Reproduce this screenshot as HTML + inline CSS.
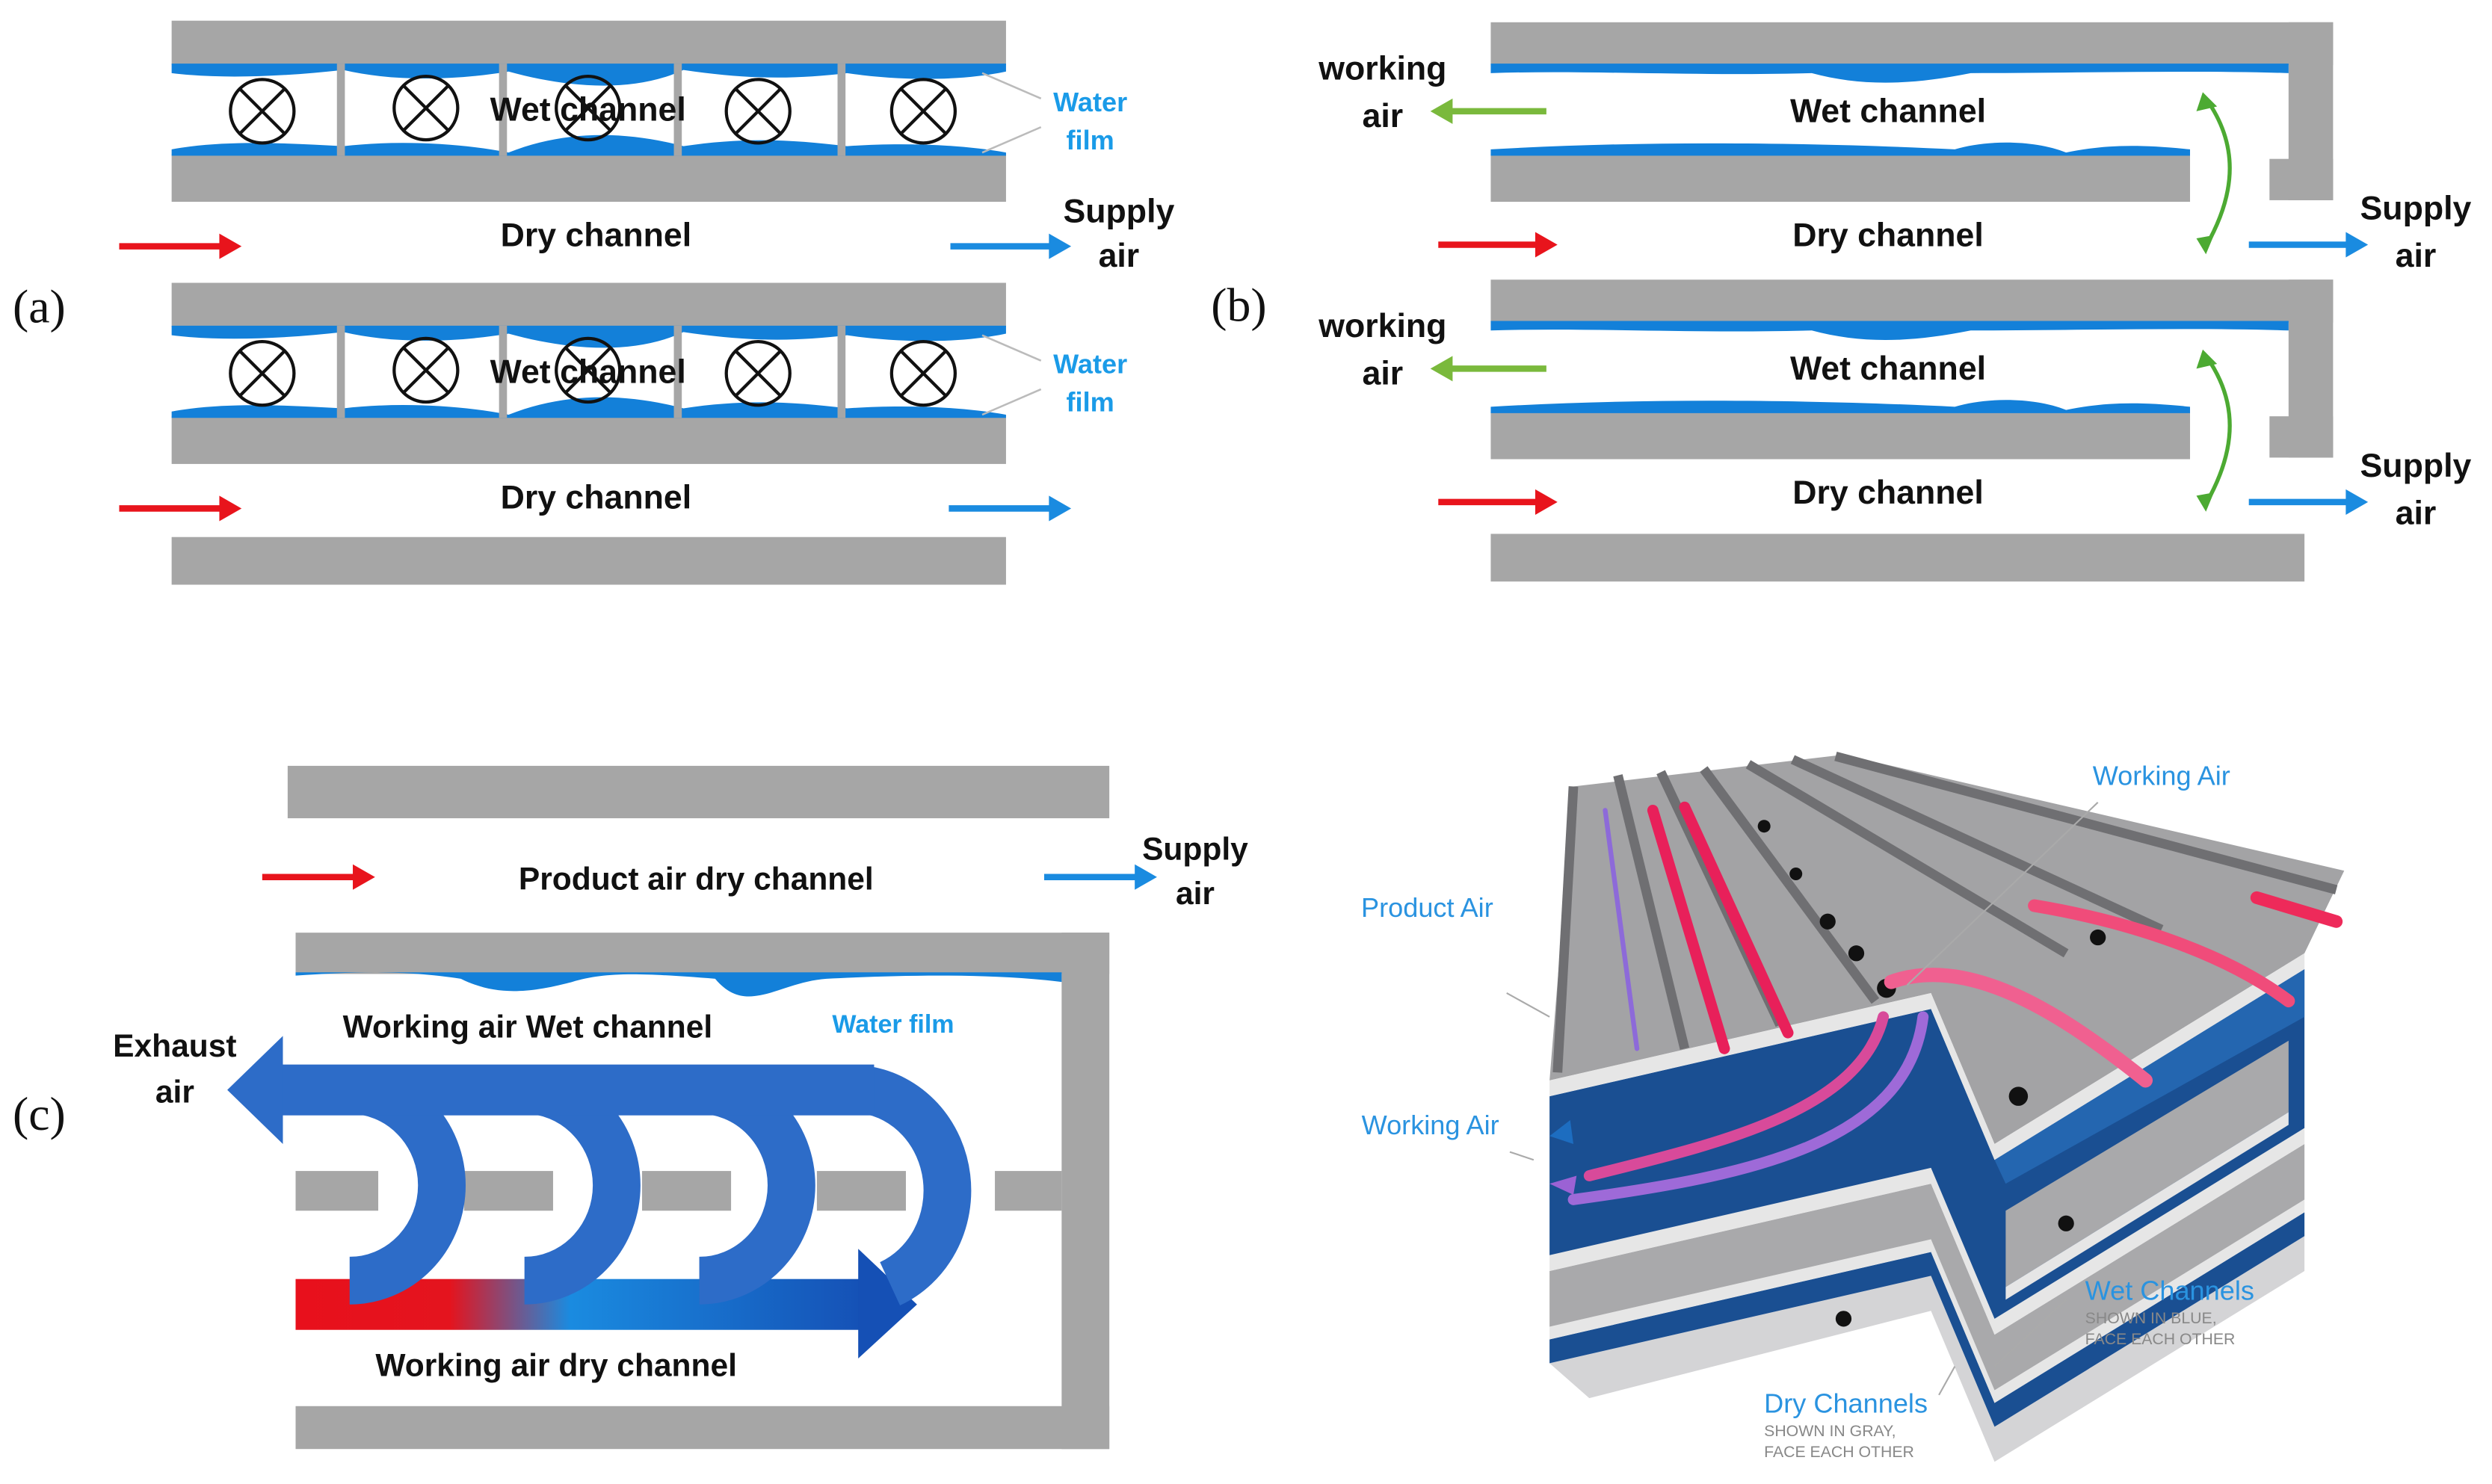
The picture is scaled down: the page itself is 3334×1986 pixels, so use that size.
<!DOCTYPE html>
<html><head><meta charset="utf-8"><style>
html,body{margin:0;padding:0;background:#fff}
svg{display:block}
text{font-family:"Liberation Sans",sans-serif}
.b{font-weight:bold;fill:#111}
.w{font-weight:bold;fill:#1a9be8}
.lab{font-family:"Liberation Serif",serif;font-size:30px;fill:#111}
.p{fill:#a6a6a6}
.wf{fill:#1380d9}
.cx{fill:none;stroke:#111;stroke-width:2}
.bl{fill:#2a93e0;font-weight:normal}
</style></head><body>
<svg width="3334" height="1986" viewBox="0 0 1568 934" xmlns="http://www.w3.org/2000/svg">
<defs>
<linearGradient id="gr" x1="0" x2="1"><stop offset="0" stop-color="#e8101c"/><stop offset="0.27" stop-color="#e4141e"/><stop offset="0.48" stop-color="#1a8be0"/><stop offset="1" stop-color="#1550b5"/></linearGradient>
<g id="xc"><circle r="20" class="cx"/><path d="M-14,-14L14,14M14,-14L-14,14" class="cx"/></g>
<g id="ua">
<rect x="108" y="13" width="525" height="28" class="p"/>
<rect x="108" y="97" width="525" height="30" class="p"/>
<path class="wf" d="M108,40 L633,40 L633,45 C600,52 560,50 533,46 C500,50 470,50 430,44 C400,58 360,56 320,45 C290,50 250,52 216,44 C180,48 140,50 108,46Z"/>
<path class="wf" d="M108,98 L633,98 L633,96 C600,90 560,90 533,92 C500,88 470,86 430,92 C400,84 360,80 320,96 C290,90 250,88 216,92 C180,90 140,88 108,94Z"/>
<rect x="212" y="40" width="5" height="58" class="p"/><rect x="314" y="40" width="5" height="58" class="p"/><rect x="424" y="40" width="5" height="58" class="p"/><rect x="527" y="40" width="5" height="58" class="p"/>
<use href="#xc" x="165" y="70"/><use href="#xc" x="268" y="68"/><use href="#xc" x="370" y="68"/><use href="#xc" x="477" y="70"/><use href="#xc" x="581" y="70"/>
<text x="370" y="76" class="b" font-size="21" text-anchor="middle">Wet channel</text>
<path d="M618,46L655,62M618,96L655,80" stroke="#bbb" stroke-width="1.2"/>
<text x="686" y="70" class="w" font-size="17" text-anchor="middle">Water</text>
<text x="686" y="94" class="w" font-size="17" text-anchor="middle">film</text>
<text x="375" y="155" class="b" font-size="21" text-anchor="middle">Dry channel</text>
<path d="M75,155H140" stroke="#e8141c" stroke-width="4"/><path d="M138,147L152,155L138,163Z" fill="#e8141c"/>
</g>
</defs>

<!-- (a) -->
<use href="#ua"/>
<use href="#ua" y="165"/>
<rect x="108" y="338" width="525" height="30" class="p"/>
<path d="M598,155H662" stroke="#1a8be0" stroke-width="4"/><path d="M660,147L674,155L660,163Z" fill="#1a8be0"/>
<path d="M597,320H662" stroke="#1a8be0" stroke-width="4"/><path d="M660,312L674,320L660,328Z" fill="#1a8be0"/>
<text x="704" y="140" class="b" font-size="21" text-anchor="middle">Supply</text>
<text x="704" y="168" class="b" font-size="21" text-anchor="middle">air</text>
<text x="8" y="203" class="lab">(a)</text>

<!-- (b) -->
<g id="ub">
<rect x="938" y="14" width="530" height="27" class="p"/>
<rect x="1440" y="14" width="28" height="112" class="p"/>
<rect x="1428" y="100" width="40" height="26" class="p"/>
<rect x="938" y="97" width="440" height="30" class="p"/>
<path class="wf" d="M938,40H1440V46C1380,44 1300,46 1240,46 C1200,54 1170,54 1140,46 C1060,48 1000,44 938,46Z"/>
<path class="wf" d="M938,98H1378V94C1340,90 1320,92 1300,96 C1280,88 1250,88 1230,94 C1150,90 1040,88 938,94Z"/>
<path d="M973,70H912" stroke="#7ab93c" stroke-width="4"/><path d="M914,62L900,70L914,78Z" fill="#7ab93c"/>
<path d="M1388,155 C1408,120 1408,90 1388,62" fill="none" stroke="#4caa32" stroke-width="2.5"/>
<path d="M1382,70L1386,58L1395,67Z" fill="#4caa32"/><path d="M1382,150L1388,160L1393,148Z" fill="#4caa32"/>
<text x="870" y="50" class="b" font-size="21" text-anchor="middle">working</text>
<text x="870" y="80" class="b" font-size="21" text-anchor="middle">air</text>
<text x="1188" y="77" class="b" font-size="21" text-anchor="middle">Wet  channel</text>
<text x="1188" y="155" class="b" font-size="21" text-anchor="middle">Dry channel</text>
<path d="M905,154H968" stroke="#e8141c" stroke-width="4"/><path d="M966,146L980,154L966,162Z" fill="#e8141c"/>
<path d="M1415,154H1478" stroke="#1a8be0" stroke-width="4"/><path d="M1476,146L1490,154L1476,162Z" fill="#1a8be0"/>
<text x="1520" y="138" class="b" font-size="21" text-anchor="middle">Supply</text>
<text x="1520" y="168" class="b" font-size="21" text-anchor="middle">air</text>
</g>
<use href="#ub" y="162"/>
<rect x="938" y="336" width="512" height="30" class="p"/>
<text x="762" y="202" class="lab">(b)</text>

<!-- (c) -->
<rect x="181" y="482" width="517" height="33" class="p"/>
<path d="M165,552H224" stroke="#e8141c" stroke-width="4"/><path d="M222,544L236,552L222,560Z" fill="#e8141c"/>
<text x="438" y="560" class="b" font-size="20" text-anchor="middle">Product air dry channel</text>
<path d="M657,552H716" stroke="#1a8be0" stroke-width="4"/><path d="M714,544L728,552L714,560Z" fill="#1a8be0"/>
<text x="752" y="541" class="b" font-size="20" text-anchor="middle">Supply</text>
<text x="752" y="569" class="b" font-size="20" text-anchor="middle">air</text>
<rect x="186" y="587" width="512" height="26" class="p"/>
<rect x="668" y="587" width="30" height="325" class="p"/>
<rect x="186" y="885" width="512" height="27" class="p"/>
<path class="wf" d="M186,612H668V618C620,612 560,614 520,616 C490,618 470,640 450,616 C400,612 380,612 360,618 C330,626 310,626 290,616 C250,610 220,612 186,614Z"/>
<text x="332" y="653" class="b" font-size="20" text-anchor="middle">Working air Wet  channel</text>
<text x="562" y="650" class="w" font-size="16" text-anchor="middle">Water film</text>
<rect x="186" y="737" width="52" height="25" class="p"/><rect x="292" y="737" width="56" height="25" class="p"/><rect x="404" y="737" width="56" height="25" class="p"/><rect x="514" y="737" width="56" height="25" class="p"/><rect x="626" y="737" width="42" height="25" class="p"/>
<rect x="186" y="805" width="360" height="32" fill="url(#gr)"/>
<path d="M540,786L577,821L540,855Z" fill="#1550b5"/>
<g fill="none" stroke="#2d6cc8" stroke-width="30">
<path d="M220,686 A58,60 0 0 1 220,806"/>
<path d="M330,686 A58,60 0 0 1 330,806"/>
<path d="M440,686 A58,60 0 0 1 440,806"/>
<path d="M545,686 A60,64 0 0 1 560,808"/>
</g>
<rect x="175" y="670" width="375" height="32" fill="#2d6cc8"/>
<path d="M178,652L143,686L178,720Z" fill="#2d6cc8"/>
<text x="110" y="665" class="b" font-size="20" text-anchor="middle">Exhaust</text>
<text x="110" y="694" class="b" font-size="20" text-anchor="middle">air</text>
<text x="350" y="866" class="b" font-size="20" text-anchor="middle">Working air dry channel</text>
<text x="8" y="711" class="lab">(c)</text>

<!-- 3D -->
<g>
<polygon points="975,858 1215,803 1255,898 1450,778 1450,800 1255,920 1215,825 1000,880" fill="#d4d4d6"/>
<polygon points="975,843 1215,788 1255,883 1450,763 1450,778 1255,898 1215,803 975,858" fill="#1a4f92"/>
<polygon points="975,835 1215,780 1255,875 1450,755 1450,763 1255,883 1215,788 975,843" fill="#e6e6e6"/>
<polygon points="975,800 1215,745 1255,840 1450,720 1450,755 1255,875 1215,780 975,835" fill="#a9a9ab"/>
<polygon points="975,790 1215,735 1255,830 1450,710 1450,720 1255,840 1215,745 975,800" fill="#e6e6e6"/>
<polygon points="975,690 1215,635 1255,730 1450,610 1450,710 1255,830 1215,735 975,790" fill="#1a4f92"/>
<polygon points="1255,730 1450,610 1450,640 1262,745" fill="#2466b0"/>
<polygon points="1262,762 1440,655 1440,700 1262,810" fill="#a9a9ab"/>
<polygon points="1262,810 1440,700 1440,708 1262,818" fill="#e6e6e6"/>
<!-- top plate -->
<polygon points="990,495 1160,475 1475,548 1450,600 1255,720 1215,625 975,680" fill="#a3a3a5"/>
<polygon points="975,680 1215,625 1255,720 1450,600 1450,610 1255,730 1215,635 975,690" fill="#e6e6e6"/>
<g stroke="#6f6f72" stroke-width="6">
<path d="M990,495L980,675"/><path d="M1018,488L1060,660"/><path d="M1045,486L1120,645"/><path d="M1072,484L1180,630"/><path d="M1100,481L1300,600"/><path d="M1128,478L1360,585"/><path d="M1155,476L1470,560"/>
</g>
<g fill="#111"><circle cx="1110" cy="520" r="4"/><circle cx="1130" cy="550" r="4"/><circle cx="1150" cy="580" r="5"/><circle cx="1168" cy="600" r="5"/><circle cx="1187" cy="622" r="6"/><circle cx="1320" cy="590" r="5"/><circle cx="1270" cy="690" r="6"/><circle cx="1300" cy="770" r="5"/><circle cx="1160" cy="830" r="5"/></g>
<g stroke-width="7" fill="none" stroke-linecap="round">
<path d="M1040,510L1085,660" stroke="#e8205a"/><path d="M1060,508L1125,650" stroke="#e8205a"/>
<path d="M1010,510L1030,660" stroke="#8d6ad9" stroke-width="3"/>
<path d="M1185,640 C1170,700 1080,720 1000,740" stroke="#d84a9a"/>
<path d="M1210,640 C1200,720 1100,740 990,755" stroke="#9e6ad8"/>
<path d="M1190,618 C1240,600 1300,640 1350,680" stroke="#f06090" stroke-width="9"/>
<path d="M1280,570 C1340,580 1400,600 1440,630" stroke="#f04c7a" stroke-width="8"/>
<path d="M1420,565L1470,580" stroke="#ee2a5a" stroke-width="8"/>
</g>
<path d="M988,705L975,715L990,720Z" fill="#1d6dc0"/>
<path d="M992,740L975,745L990,752Z" fill="#9b62d4"/>
<path d="M975,640L948,625M1200,620L1320,505M965,730L950,725M1255,860L1300,818M1230,860L1220,878" stroke="#aaa" stroke-width="1"/>
<text x="1360" y="494" class="bl" font-size="17" text-anchor="middle">Working Air</text>
<text x="898" y="577" class="bl" font-size="17" text-anchor="middle">Product Air</text>
<text x="900" y="714" class="bl" font-size="17" text-anchor="middle">Working Air</text>
<text x="1312" y="818" class="bl" font-size="17">Wet Channels</text>
<text x="1312" y="833" font-size="10" fill="#888">SHOWN IN BLUE,</text>
<text x="1312" y="846" font-size="10" fill="#888">FACE EACH OTHER</text>
<text x="1110" y="889" class="bl" font-size="17">Dry Channels</text>
<text x="1110" y="904" font-size="10" fill="#888">SHOWN IN GRAY,</text>
<text x="1110" y="917" font-size="10" fill="#888">FACE EACH OTHER</text>
</g>
</svg>
</body></html>
